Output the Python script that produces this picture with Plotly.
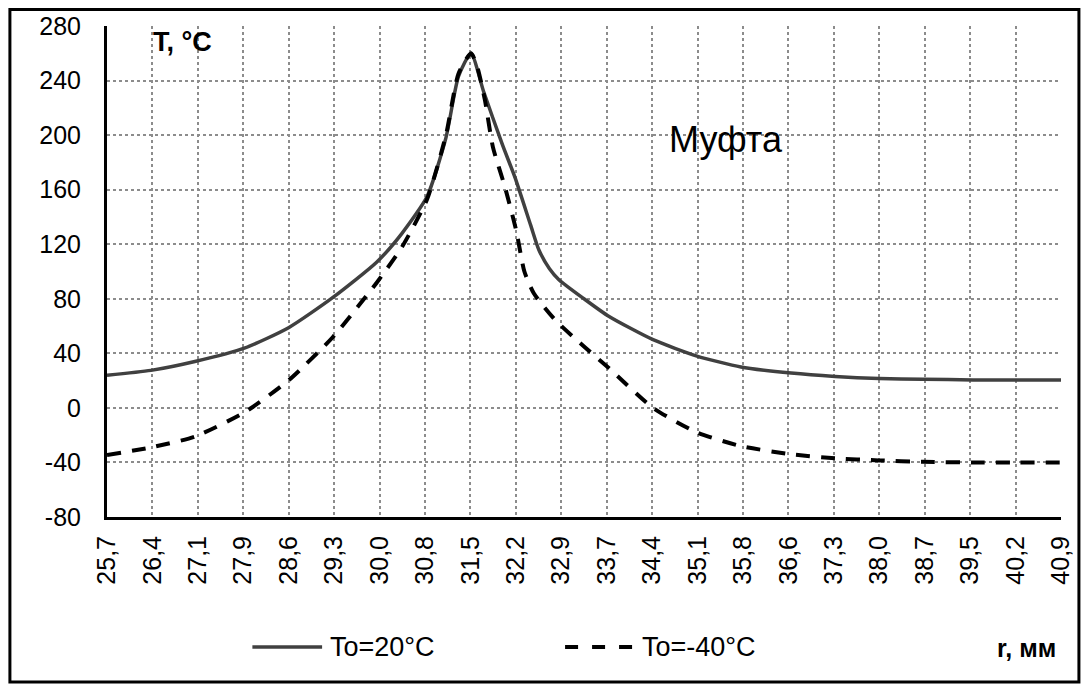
import plotly.graph_objects as go

# ---- data ----
tick_labels = ["25,7", "26,4", "27,1", "27,9", "28,6", "29,3", "30,0", "30,8", "31,5", "32,2", "32,9",
               "33,7", "34,4", "35,1", "35,8", "36,6", "37,3", "38,0", "38,7", "39,5", "40,2", "40,9"]
r_min, r_max = 25.7, 40.9

r_20 = [25.7, 26.4, 27.1, 27.9, 28.6, 29.3, 30.0, 30.4, 30.8, 31.1, 31.3, 31.5, 31.7, 32.0, 32.2,
        32.45, 32.58, 32.75, 32.9, 33.3, 33.7, 34.4, 35.1, 35.8, 36.6, 37.3, 38.0, 38.7, 39.5, 40.2, 40.9]
T_20 = [24, 27.5, 34, 44, 59, 81, 107, 128, 155, 198, 243, 260, 232, 193, 169,
        134, 116, 102, 94, 80, 67, 50, 38, 30, 25.5, 23, 21.5, 21, 20.5, 20.5, 20.5]

r_m40 = [25.7, 26.4, 27.1, 27.9, 28.6, 29.3, 30.0, 30.4, 30.8, 31.1, 31.3, 31.5, 31.6, 31.72, 31.85,
         32.04, 32.22, 32.35, 32.5, 32.85, 33.3, 33.7, 34.4, 35.1, 35.8, 36.6, 37.3, 38.0, 38.7,
         39.5, 40.2, 40.9]
T_m40 = [-34.5, -29, -21, -3, 20.5, 52, 92, 118, 153, 200, 245, 260, 250, 226, 191,
         162, 130, 100, 84, 64, 45, 29, 0, -18, -28, -34, -37, -38.5, -39.5,
         -40, -40, -40]

y_ticks = [-80, -40, 0, 40, 80, 120, 160, 200, 240, 280]
y_tick_labels = ["-80", "-40", "0", "40", "80", "120", "160", "200", "240", "280"]
series_names = ["To=20°C", "To=-40°C"]

# ---- layout geometry (pixels) ----
W, H = 1086, 684
L, R, T, B = 107, 1065, 26, 517
pw, ph = R - L, B - T


def px(x):
    return (x - L) / pw


def py(y):
    return (B - y) / ph


tick_vals = [r_min + i * (r_max - r_min) / (len(tick_labels) - 1) for i in range(len(tick_labels))]

FONT = "Liberation Sans, Arial, sans-serif"

fig = go.Figure()
fig.add_trace(go.Scatter(x=r_20, y=T_20, mode="lines", name=series_names[0],
                         line=dict(color="#404040", width=3.5, shape="spline", smoothing=0.6)))
fig.add_trace(go.Scatter(x=r_m40, y=T_m40, mode="lines", name=series_names[1],
                         line=dict(color="#000000", width=4, dash="14px,11px", shape="spline",
                                   smoothing=0.6)))

grid = dict(showgrid=True, gridcolor="#8c8c8c", gridwidth=1.5, griddash="dot", zeroline=False)

fig.update_xaxes(range=[r_min, r_max], tickmode="array", tickvals=tick_vals, ticktext=tick_labels,
                 tickangle=-90, tickfont=dict(family=FONT, size=25, color="black"),
                 showline=True, linecolor="black", linewidth=3, ticks="", ticklabelstandoff=6,
                 **grid)
fig.update_yaxes(range=[-80, 280], tickmode="array", tickvals=y_ticks, ticktext=y_tick_labels,
                 tickfont=dict(family=FONT, size=25, color="black"),
                 showline=True, linecolor="black", linewidth=3, ticks="", ticklabelstandoff=18,
                 **grid)

shapes = [
    # outer chart border
    dict(type="rect", xref="paper", yref="paper", x0=px(9.5), x1=px(1083), y0=py(682), y1=py(9.5),
         line=dict(color="black", width=3)),
    # legend keys
    dict(type="line", xref="paper", yref="paper", x0=px(253), x1=px(323), y0=py(647), y1=py(647),
         line=dict(color="#404040", width=3.5)),
    dict(type="line", xref="paper", yref="paper", x0=px(567), x1=px(636), y0=py(647), y1=py(647),
         line=dict(color="black", width=4, dash="13px,14px")),
]

annotations = [
    dict(text=series_names[0], xref="paper", yref="paper", x=px(329), y=py(647), xanchor="left",
         yanchor="middle", showarrow=False, font=dict(family=FONT, size=27, color="black")),
    dict(text=series_names[1], xref="paper", yref="paper", x=px(642), y=py(647), xanchor="left",
         yanchor="middle", showarrow=False, font=dict(family=FONT, size=27, color="black")),
    dict(text="<b>r, мм</b>", xref="paper", yref="paper", x=px(1062), y=py(648), xanchor="right",
         yanchor="middle", showarrow=False, font=dict(family=FONT, size=25, color="black")),
    dict(text="<b>T, °C</b>", xref="paper", yref="paper", x=px(151), y=py(42), xanchor="left",
         yanchor="middle", showarrow=False, font=dict(family=FONT, size=27, color="black")),
    dict(text="Муфта", xref="paper", yref="paper", x=px(669), y=py(139), xanchor="left",
         yanchor="middle", showarrow=False, font=dict(family=FONT, size=36, color="black")),
]

fig.update_layout(width=W, height=H, margin=dict(l=L, r=W - R, t=T, b=H - B),
                  paper_bgcolor="white", plot_bgcolor="white", showlegend=False,
                  shapes=shapes, annotations=annotations)

fig.write_html("out.html")
